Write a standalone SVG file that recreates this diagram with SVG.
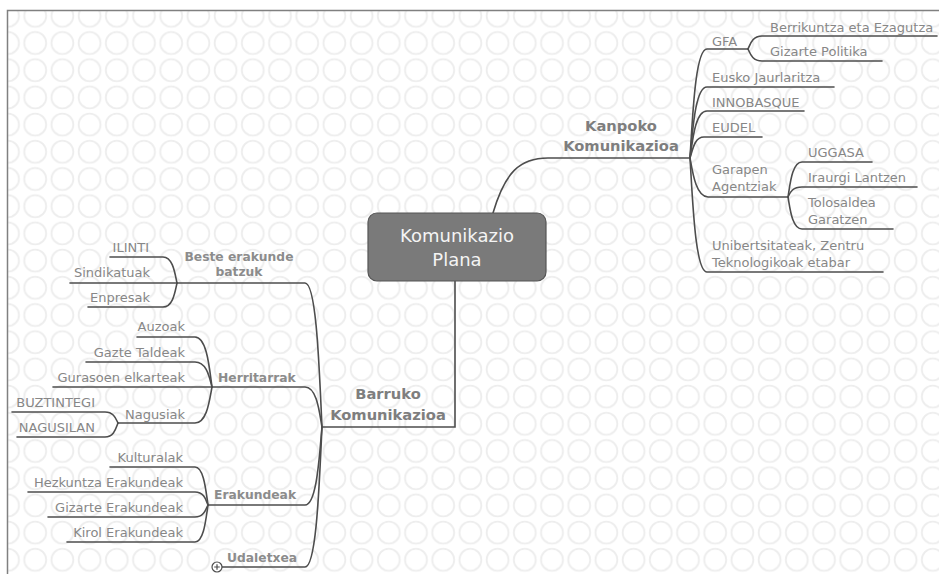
<svg xmlns="http://www.w3.org/2000/svg" width="939" height="574" viewBox="0 0 939 574">
<defs>
<pattern id="bg" patternUnits="userSpaceOnUse" x="-5.6" y="2.2" width="27.2" height="27.2">
<circle cx="13.6" cy="13.6" r="11" fill="none" stroke="#ededed" stroke-width="1.8"/>
</pattern>
<style>
.leaf{font-family:"DejaVu Sans",Verdana,sans-serif;font-size:13px;fill:#878787}
.br{font-family:"DejaVu Sans",Verdana,sans-serif;font-size:12.3px;font-weight:bold;fill:#8c8c8c}
.main{font-family:"DejaVu Sans",Verdana,sans-serif;font-size:14.7px;font-weight:bold;fill:#7e7e7e}
.root{font-family:"DejaVu Sans",Verdana,sans-serif;font-size:18px;fill:#f4f4f4}
.ln{fill:none;stroke:#4d4d4d;stroke-width:1.6;stroke-linecap:round}
.r{text-anchor:end}
.m{text-anchor:middle}
</style>
</defs>
<rect x="0" y="0" width="939" height="574" fill="#fff"/>
<rect x="8" y="10" width="931" height="564" fill="url(#bg)"/>
<path d="M7.5,574 V10.5 H939" fill="none" stroke="#808080" stroke-width="1.5"/>

<g id="connectors" class="ln">
<path d="M493,213 C505,172 520,158 548,158 L690,158"/>
<path d="M455,281 V427 H322"/>
<path d="M690,158 C692.5,120 695,49 707,49 H748"/>
<path d="M690,158 C692.5,133 695,87 707,87 H834"/>
<path d="M690,158 C692.5,141 695,111 707,111 H804"/>
<path d="M690,158 C692.5,151 694,137 704,137 H762"/>
<path d="M690,158 C692.5,172 696,197 708,197 H788"/>
<path d="M690,158 C692.5,197 695,272 707,272 H883"/>
<path d="M748,49 C750,45 752,36 762,36 H937"/>
<path d="M748,49 C750,53 752,61 762,61 H882"/>
<path d="M788,197 C790,185 792,162 802,162 H872"/>
<path d="M788,197 C790,193 792,187 802,187 H917"/>
<path d="M788,197 C790,208 792,229 802,229 H893"/>
<path d="M322,427 C319.5,377 317,283 305,283 H177"/>
<path d="M322,427 C319.5,413 317,387 305,387 H212"/>
<path d="M322,427 C319.5,454 317,505 305,505 H208"/>
<path d="M322,427 C319.5,476 317,567 305,567 H222"/>
<path d="M177,283 C175,274 173,257 163,257 H110"/>
<path d="M177,283 H70"/>
<path d="M177,283 C175,292 173,307 163,307 H88"/>
<path d="M212,387 C209.5,369 207,337 195,337 H137"/>
<path d="M212,387 C209.5,378 207,362 195,362 H86"/>
<path d="M212,387 H53"/>
<path d="M212,387 C209.5,400 207,423 195,423 H118"/>
<path d="M118,423 C116,419 114,412 105,412 H12"/>
<path d="M118,423 C116,428 114,437 105,437 H17"/>
<path d="M208,505 C206,492 204,467 195,467 H110"/>
<path d="M208,505 C206,500 204,492 195,492 H28"/>
<path d="M208,505 C206,509 204,517 195,517 H48"/>
<path d="M208,505 C206,518 204,542 195,542 H67"/>
</g>

<g id="root">
<rect x="368" y="213" width="178" height="68" rx="9" fill="#7a7a7a" stroke="#555" stroke-width="1.2"/>
<text class="root m" x="457" y="242">Komunikazio</text>
<text class="root m" x="457" y="266">Plana</text>
</g>

<g id="kanpoko">
<text class="main m" x="621" y="131">Kanpoko</text>
<text class="main m" x="621" y="151">Komunikazioa</text>
</g>
<g id="gfa"><text class="leaf" x="712" y="46">GFA</text></g>
<g id="berrikuntza"><text class="leaf" x="770" y="32">Berrikuntza eta Ezagutza</text></g>
<g id="gizarte-politika"><text class="leaf" x="770" y="56">Gizarte Politika</text></g>
<g id="eusko"><text class="leaf" x="712" y="82">Eusko Jaurlaritza</text></g>
<g id="innobasque"><text class="leaf" x="712" y="107">INNOBASQUE</text></g>
<g id="eudel"><text class="leaf" x="712" y="132">EUDEL</text></g>
<g id="garapen">
<text class="leaf" x="712" y="174">Garapen</text>
<text class="leaf" x="712" y="191">Agentziak</text>
</g>
<g id="uggasa"><text class="leaf" x="808" y="157">UGGASA</text></g>
<g id="iraurgi"><text class="leaf" x="808" y="182">Iraurgi Lantzen</text></g>
<g id="tolosaldea">
<text class="leaf" x="808" y="207">Tolosaldea</text>
<text class="leaf" x="808" y="224">Garatzen</text>
</g>
<g id="unibertsitateak">
<text class="leaf" x="712" y="250">Unibertsitateak, Zentru</text>
<text class="leaf" x="712" y="267">Teknologikoak etabar</text>
</g>

<g id="barruko">
<text class="main m" x="388" y="399">Barruko</text>
<text class="main m" x="388" y="420">Komunikazioa</text>
</g>
<g id="beste">
<text class="br m" x="239" y="261">Beste erakunde</text>
<text class="br m" x="239" y="276">batzuk</text>
</g>
<g id="ilinti"><text class="leaf r" x="149" y="252">ILINTI</text></g>
<g id="sindikatuak"><text class="leaf r" x="150" y="277">Sindikatuak</text></g>
<g id="enpresak"><text class="leaf r" x="150" y="302">Enpresak</text></g>

<g id="herritarrak"><text class="br" x="218" y="382">Herritarrak</text></g>
<g id="auzoak"><text class="leaf r" x="185" y="331">Auzoak</text></g>
<g id="gazte"><text class="leaf r" x="185" y="357">Gazte Taldeak</text></g>
<g id="gurasoen"><text class="leaf r" x="185" y="382">Gurasoen elkarteak</text></g>
<g id="nagusiak"><text class="leaf r" x="185" y="419">Nagusiak</text></g>
<g id="buztintegi"><text class="leaf r" x="95" y="407">BUZTINTEGI</text></g>
<g id="nagusilan"><text class="leaf r" x="95" y="432">NAGUSILAN</text></g>

<g id="erakundeak"><text class="br" x="214" y="499">Erakundeak</text></g>
<g id="kulturalak"><text class="leaf r" x="183" y="462">Kulturalak</text></g>
<g id="hezkuntza"><text class="leaf r" x="183" y="487">Hezkuntza Erakundeak</text></g>
<g id="gizarte-erakundeak"><text class="leaf r" x="183" y="512">Gizarte Erakundeak</text></g>
<g id="kirol"><text class="leaf r" x="183" y="537">Kirol Erakundeak</text></g>

<g id="udaletxea">
<text class="br" x="227" y="562">Udaletxea</text>
<circle cx="217" cy="567" r="5" fill="#fff" stroke="#4d4d4d" stroke-width="1.2"/>
<path d="M214.2,567 H219.8 M217,564.2 V569.8" stroke="#4d4d4d" stroke-width="1.2"/>
</g>
</svg>
